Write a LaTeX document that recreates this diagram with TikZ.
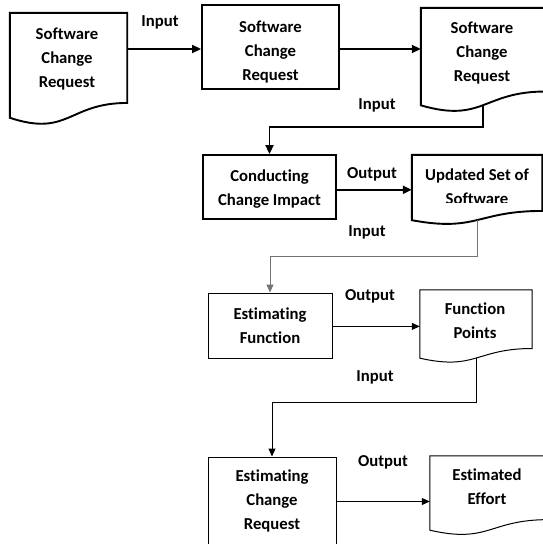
\documentclass[tikz,border=0pt]{standalone}
\usepackage{fontspec}
\setmainfont{Carlito}[RawFeature=-liga]
\usetikzlibrary{calc,arrows.meta}

% Wavy-bottom "document" outline drawn around an invisible frame node
\newcommand\docoutline[2][]{%
  \draw[#1] (#2.north west) -- (#2.north east)
    -- ($(#2.north east)!0.802!(#2.south east)$)
    .. controls ($(#2.north)!0.802!(#2.south)$) and ($(#2.north)!1.107!(#2.south)$)
    .. ($(#2.north west)!0.934!(#2.south west)$) -- cycle;}

\begin{document}
\begin{tikzpicture}[x=1pt,y=-1pt,
  every node/.style={font=\fontsize{16.7}{24}\selectfont\bfseries, align=center, inner sep=0pt},
  frame/.style={draw=none, minimum width=#1},
  heavy/.style={line width=1.9pt, draw=black},
  light/.style={line width=1pt, draw=black},
  grayline/.style={line width=1pt, draw=black!55},
  bigtip/.style={-{Triangle[length=9pt,width=8pt]}},
  smalltip/.style={-{Triangle[length=8pt,width=7pt]}}]

\useasboundingbox (0,0) rectangle (543,544);
\fill[white] (0,0) rectangle (543,544);
\clip (0,0) rectangle (543,544);

% ---- row 1 ----
\node[frame=117pt, minimum height=112pt] (d1) at (68.5,69) {};
\docoutline[heavy]{d1}
\node (d1t) at (67,59) {Software\\Change\\Request};

\node[heavy, draw, minimum width=137pt, minimum height=84pt] (b2) at (270.5,47) {};
\node (b2t) at (270.5,52) {Software\\Change\\Request};

\node[frame=124pt, minimum height=104pt] (d3) at (483,60) {};
\docoutline[heavy]{d3}
\node (d3t) at (482,53) {Software\\Change\\Request};

% ---- row 2 ----
\node[heavy, draw, minimum width=133pt, minimum height=64pt] (b4) at (269.5,187) {};
\node (b4t) at (269.5,189.5) {Conducting\\Change Impact};

\node[frame=130pt, minimum height=69.6pt] (d4) at (477,189.8) {};
\docoutline[heavy]{d4}
\begin{scope}
  \clip (412,150) rectangle (542,202.5);
  \node (d4t) at (477,187) {Updated Set of\\Software};
\end{scope}

% ---- row 3 ----
\node[light, draw, minimum width=124pt, minimum height=65pt] (b5) at (270,325.5) {};
\node (b5t) at (270,326) {Estimating\\Function};

\node[frame=112pt, minimum height=72.8pt] (d5) at (476,326.4) {};
\docoutline[light]{d5}
\node (d5t) at (475,321) {Function\\Points};

% ---- row 4 ----
\node[light, draw, minimum width=128pt, minimum height=89pt] (b6) at (272,501.5) {};
\node (b6t) at (272,501) {Estimating\\Change\\Request};

\node[frame=118pt, minimum height=79.2pt] (d6) at (489,495.6) {};
\docoutline[light]{d6}
\node (d6t) at (487,487) {Estimated\\Effort};

% ---- points on the wavy edges where the down-links start ----
\coordinate (d3w) at ($(d3.north)!0.933!(d3.south)$);
\coordinate (d4w) at ($(d4.north)!0.933!(d4.south)$);
\coordinate (d5w) at ($(d5.north)!0.933!(d5.south)$);

% ---- connectors ----
\draw[heavy, bigtip] ($(d1.east |- b2.west)+(0,2)$) -- ($(b2.west)+(0,2)$);
\draw[heavy, bigtip] ($(b2.east)+(0,2)$) -- ($(b2.east -| d3.west)+(0,2)$);
\draw[heavy, bigtip] (d3w) |- ($(b4.north)+(0,-27)$) -- (b4.north);
\draw[heavy, bigtip] (b4.east |- d4.west) -- (d4.west);
\draw[grayline, smalltip] (d4w) |- ($(b5.north)+(0,-36)$) -- (b5.north);
\draw[light, smalltip] (b5.east |- d5.west) -- (d5.west);
\draw[light, smalltip] (d5w) |- ($(b6.north)+(0,-54)$) -- (b6.north);
\draw[light, smalltip] (b6.east) -- (b6.east -| d6.west);

% ---- connector labels ----
\node (l1) at (160,22) {Input};
\node (l2) at (377,105) {Input};
\node (l3) at (372,174) {Output};
\node (l4) at (367,232) {Input};
\node (l5) at (370,296) {Output};
\node (l6) at (375,377) {Input};
\node (l7) at (383,462) {Output};
\end{tikzpicture}
\end{document}
